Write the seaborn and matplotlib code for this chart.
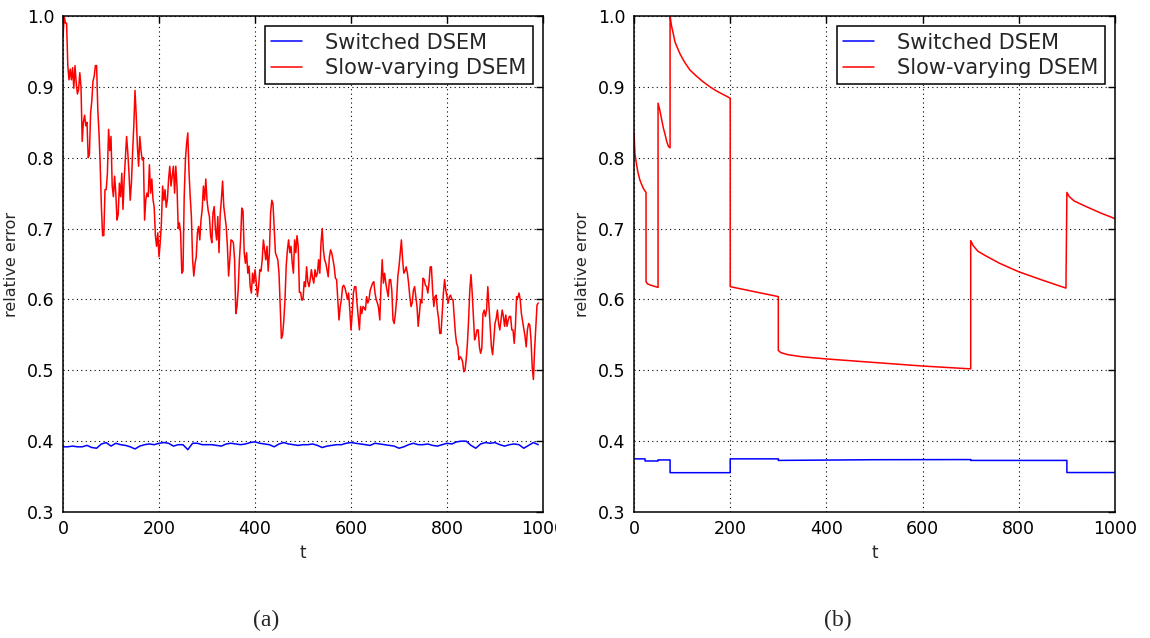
import numpy as np
import pandas as pd
import matplotlib
matplotlib.use("Agg")
import matplotlib.pyplot as plt
import seaborn as sns
from matplotlib.transforms import Bbox, TransformedBbox

# ---------------- data ----------------
# (a) slow-varying DSEM, read at t = 0, 5, ..., 990
t_a_slow = np.arange(0, 991, 5)
slow_a = [
    0.97, 0.99, 0.93, 0.925, 0.927, 0.93, 0.89, 0.92, 0.823, 0.86,
    0.85, 0.804, 0.88, 0.915, 0.93, 0.835, 0.73, 0.69, 0.755, 0.84,
    0.83, 0.745, 0.75, 0.72, 0.745, 0.727, 0.80, 0.807, 0.74, 0.807,
    0.895, 0.816, 0.83, 0.797, 0.712, 0.75, 0.79, 0.77, 0.73, 0.675,
    0.66, 0.708, 0.74, 0.73, 0.77, 0.76, 0.788, 0.788, 0.70, 0.694,
    0.64, 0.797, 0.835, 0.745, 0.656, 0.65, 0.694, 0.684, 0.727, 0.74,
    0.74, 0.717, 0.68, 0.731, 0.684, 0.666, 0.741, 0.731, 0.703, 0.633,
    0.684, 0.68, 0.58, 0.614, 0.684, 0.725, 0.651, 0.637, 0.618, 0.637,
    0.642, 0.604, 0.642, 0.656, 0.67, 0.675, 0.666, 0.74, 0.70, 0.661,
    0.637, 0.545, 0.57, 0.647, 0.684, 0.675, 0.637, 0.666, 0.675, 0.61,
    0.60, 0.618, 0.625, 0.628, 0.63, 0.642, 0.637, 0.637, 0.70, 0.656,
    0.642, 0.66, 0.665, 0.646, 0.628, 0.571, 0.60, 0.62, 0.609, 0.609,
    0.557, 0.609, 0.618, 0.576, 0.59, 0.59, 0.585, 0.595, 0.613, 0.623,
    0.609, 0.595, 0.571, 0.656, 0.637, 0.613, 0.628, 0.613, 0.566, 0.60,
    0.646, 0.684, 0.637, 0.646, 0.623, 0.59, 0.613, 0.604, 0.562, 0.60,
    0.63, 0.62, 0.609, 0.646, 0.613, 0.604, 0.585, 0.552, 0.58, 0.628,
    0.604, 0.604, 0.60, 0.576, 0.538, 0.515, 0.517, 0.498, 0.515, 0.571,
    0.635, 0.576, 0.548, 0.557, 0.524, 0.58, 0.576, 0.618, 0.562, 0.522,
    0.566, 0.585, 0.557, 0.585, 0.562, 0.562, 0.576, 0.557, 0.538, 0.604,
    0.609, 0.58, 0.557, 0.533, 0.566, 0.543, 0.487, 0.562, 0.595,
]
# (a) slow-varying DSEM, read in between, at t = 2.5, 7.5, ..., 987.5
t_a_slow_mid = np.arange(2.5, 988, 5)
slow_a_mid = [
    1.0, 0.99, 0.91, 0.91, 0.898, 0.906, 0.896, 0.90, 0.85, 0.845,
    0.80, 0.863, 0.908, 0.93, 0.868, 0.79, 0.69, 0.755, 0.778, 0.81,
    0.76, 0.774, 0.712, 0.764, 0.778, 0.77, 0.83, 0.778, 0.764, 0.845,
    0.86, 0.788, 0.81, 0.80, 0.741, 0.745, 0.75, 0.741, 0.69, 0.694,
    0.68, 0.76, 0.755, 0.741, 0.788, 0.774, 0.75, 0.76, 0.708, 0.637,
    0.745, 0.82, 0.78, 0.717, 0.633, 0.66, 0.703, 0.712, 0.76, 0.77,
    0.725, 0.69, 0.722, 0.70, 0.717, 0.72, 0.767, 0.717, 0.675, 0.656,
    0.683, 0.656, 0.59, 0.656, 0.729, 0.666, 0.666, 0.647, 0.609, 0.623,
    0.625, 0.618, 0.64, 0.684, 0.656, 0.64, 0.722, 0.735, 0.666, 0.656,
    0.59, 0.55, 0.60, 0.67, 0.666, 0.652, 0.684, 0.69, 0.61, 0.599,
    0.625, 0.646, 0.618, 0.642, 0.623, 0.632, 0.656, 0.68, 0.67, 0.651,
    0.632, 0.67, 0.656, 0.63, 0.60, 0.59, 0.618, 0.616, 0.60, 0.585,
    0.58, 0.618, 0.595, 0.557, 0.58, 0.588, 0.604, 0.60, 0.618, 0.625,
    0.60, 0.588, 0.62, 0.623, 0.623, 0.604, 0.628, 0.571, 0.58, 0.632,
    0.665, 0.656, 0.64, 0.637, 0.604, 0.595, 0.618, 0.59, 0.58, 0.595,
    0.628, 0.618, 0.623, 0.646, 0.59, 0.606, 0.573, 0.552, 0.609, 0.613,
    0.595, 0.606, 0.60, 0.552, 0.533, 0.519, 0.512, 0.50, 0.538, 0.613,
    0.609, 0.543, 0.557, 0.533, 0.531, 0.585, 0.585, 0.59, 0.533, 0.543,
    0.573, 0.566, 0.571, 0.576, 0.578, 0.571, 0.576, 0.557, 0.562, 0.602,
    0.60, 0.569, 0.548, 0.557, 0.564, 0.505, 0.529, 0.592,
]
# (a) switched DSEM, t = 0, 10, ..., 990
t_a_sw = np.arange(0, 991, 10)
switched_a = [
    0.392, 0.392, 0.393, 0.392, 0.392, 0.394, 0.391, 0.390, 0.396, 0.398,
    0.393, 0.397, 0.395, 0.394, 0.392, 0.389, 0.393, 0.395, 0.396, 0.395,
    0.397, 0.398, 0.397, 0.393, 0.395, 0.395, 0.388, 0.397, 0.397, 0.395,
    0.395, 0.395, 0.394, 0.393, 0.396, 0.397, 0.396, 0.395, 0.396, 0.398,
    0.399, 0.397, 0.396, 0.395, 0.392, 0.396, 0.398, 0.396, 0.395, 0.394,
    0.395, 0.395, 0.396, 0.394, 0.391, 0.393, 0.394, 0.395, 0.395, 0.397,
    0.398, 0.397, 0.396, 0.395, 0.394, 0.397, 0.396, 0.395, 0.394, 0.393,
    0.390, 0.392, 0.395, 0.397, 0.395, 0.395, 0.396, 0.394, 0.393, 0.395,
    0.397, 0.396, 0.399, 0.400, 0.400, 0.394, 0.390, 0.396, 0.398, 0.397,
    0.398, 0.395, 0.393, 0.395, 0.396, 0.395, 0.390, 0.394, 0.398, 0.395,
]

# (b) piecewise trajectories (repeated t = switching instants)
t_b_slow = [0, 2, 5, 8, 12, 16, 20, 25, 25, 28, 35, 50,
            50, 54, 57.5, 61, 64.5, 68, 71.5, 75,
            75, 78, 82, 85, 89, 96, 106, 116, 130, 144, 158, 172, 186, 200,
            200, 300, 300, 305, 320, 350, 400, 500, 600, 700,
            700, 705, 715, 730, 760, 800, 850, 898,
            900, 905, 915, 940, 970, 1000]
slow_b = [0.835, 0.805, 0.792, 0.78, 0.769, 0.762, 0.756, 0.751, 0.625, 0.622, 0.620, 0.617,
          0.877, 0.866, 0.854, 0.842, 0.833, 0.823, 0.816, 0.814,
          1.0, 0.986, 0.974, 0.964, 0.957, 0.946, 0.934, 0.924, 0.915, 0.907, 0.90, 0.894, 0.889, 0.884,
          0.618, 0.604, 0.528, 0.525, 0.522, 0.519, 0.516, 0.511, 0.506, 0.502,
          0.683, 0.676, 0.668, 0.662, 0.651, 0.639, 0.627, 0.616,
          0.751, 0.745, 0.739, 0.731, 0.722, 0.714]
t_b_sw = [0, 23, 23, 50, 50, 75, 75, 200, 200, 300, 300, 500, 700, 700, 900, 900, 1000]
switched_b = [0.375, 0.375, 0.372, 0.372, 0.3735, 0.3735, 0.3555, 0.3555, 0.375, 0.375,
              0.3728, 0.3738, 0.374, 0.3728, 0.3728, 0.3557, 0.3557]

series_labels = ["Switched DSEM", "Slow-varying DSEM"]
captions = ["(a)", "(b)"]
x_ticks = [0, 200, 400, 600, 800, 1000]
y_ticks = [0.3, 0.4, 0.5, 0.6, 0.7, 0.8, 0.9, 1.0]

# merge the two readings of the noisy series into one time-ordered table
slow_a_df = pd.DataFrame({
    "t": np.concatenate([t_a_slow, t_a_slow_mid]),
    "err": np.concatenate([slow_a, slow_a_mid]),
}).sort_values("t")

# ---------------- style ----------------
sns.set_style("white")
plt.rcParams['font.family'] = ['DejaVu Sans']

W, H = 1150, 638
fig = plt.figure(figsize=(W / 100, H / 100), dpi=100)
fig.patch.set_facecolor('white')
ax1 = fig.add_axes([63 / W, 126 / H, 480 / W, 496 / H])
ax2 = fig.add_axes([634 / W, 126 / H, 481 / W, 496 / H])

panels = [
    (ax1, t_a_sw, switched_a, slow_a_df["t"].to_numpy(), slow_a_df["err"].to_numpy(), 266),
    (ax2, t_b_sw, switched_b, t_b_slow, slow_b, 838),
]

for i, (ax, ts, sw, tsl, sl, capx) in enumerate(panels):
    sns.lineplot(x=ts, y=sw, ax=ax, color='#0000ff', linewidth=1.1,
                 estimator=None, sort=False, label=series_labels[0])
    sns.lineplot(x=tsl, y=sl, ax=ax, color='#ff0000', linewidth=1.1,
                 estimator=None, sort=False, label=series_labels[1])
    ax.set_xlim(0, 1000)
    ax.set_ylim(0.3, 1.0)
    ax.set_xticks(x_ticks)
    ax.set_yticks(y_ticks)
    ax.set_axisbelow(True)
    ax.grid(True, color='black', linestyle=(0, (1, 3)), linewidth=0.8)
    ax.tick_params(direction='in', top=True, right=True, length=5, width=1,
                   labelsize=12.5, pad=6, colors='black')
    for sp in ax.spines.values():
        sp.set_color('black')
        sp.set_linewidth(1.1)
        sp.set_visible(True)
    ax.set_xlabel('t', fontsize=12, labelpad=4)
    ax.set_ylabel('relative error', fontsize=11.5, labelpad=6)
    leg = ax.legend(loc='upper right', fontsize=15, frameon=True, fancybox=False,
                    edgecolor='black', framealpha=1, borderpad=0.3, labelspacing=0.25,
                    handlelength=1.5, handletextpad=1.1, borderaxespad=0.5)
    leg.get_frame().set_linewidth(1.1)
    fig.text(capx / W, 1 - 620 / H, captions[i], ha='center', va='center',
             fontsize=17, family=['Liberation Serif', 'DejaVu Serif'])

# the left panel's last tick label is cut by the panel boundary in the original
clip = TransformedBbox(Bbox.from_extents(0, 0, 556 / W, 1), fig.transFigure)
for lbl in ax1.get_xticklabels():
    lbl.set_clip_box(clip)
    lbl.set_clip_on(True)

fig.savefig('out.png', dpi=100, facecolor='white')
